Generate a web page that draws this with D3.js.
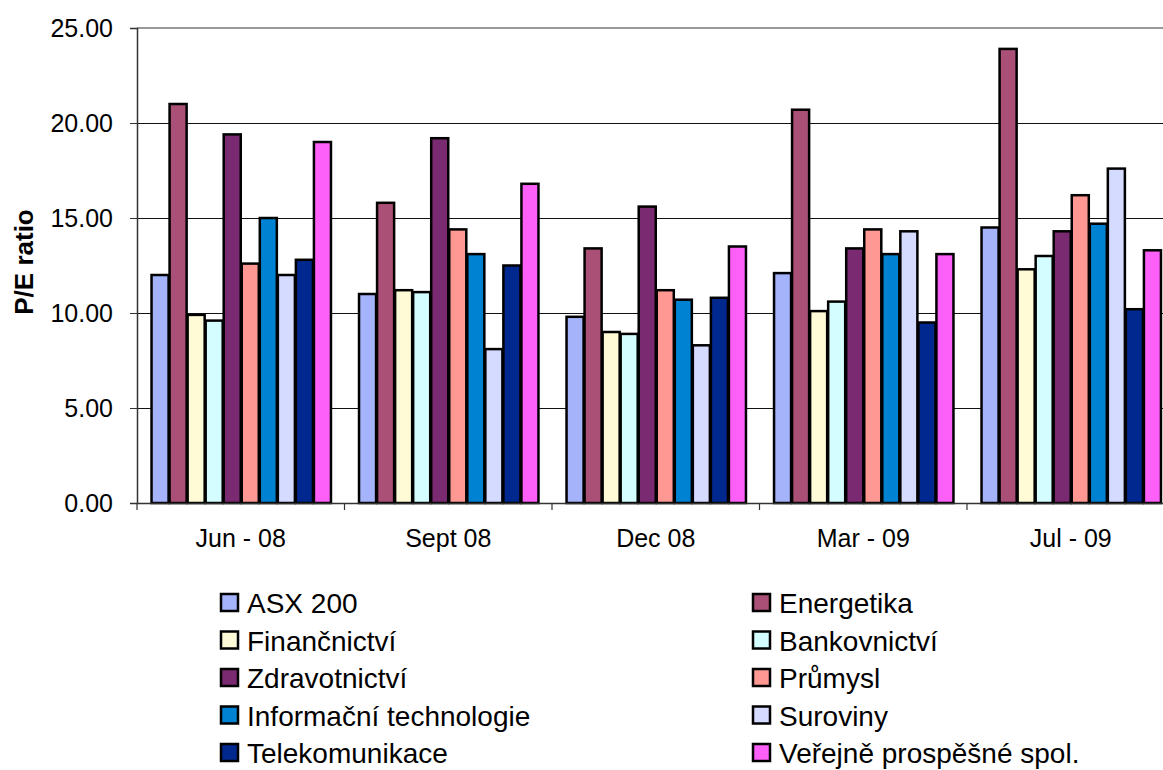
<!DOCTYPE html>
<html>
<head>
<meta charset="utf-8">
<script src="https://cdn.jsdelivr.net/npm/d3@7"></script>
<style>
  body { margin: 0; background: #fff; }
  svg { display: block; font-family: "Liberation Sans", Arial, sans-serif; }
</style>
</head>
<body>
<svg id="chart" width="1163" height="770"></svg>
<script>
// data
var periods = ["Jun - 08", "Sept 08", "Dec 08", "Mar - 09", "Jul - 09"];
var sectors = ["ASX 200", "Energetika", "Finančnictví", "Bankovnictví", "Zdravotnictví",
    "Průmysl", "Informační technologie", "Suroviny", "Telekomunikace", "Veřejně prospěšné spol."];
var colors = ["#a5b3fa", "#aa5076", "#fffbd6", "#d4fdff", "#7a2a70",
    "#ff9893", "#0082d2", "#d5daff", "#00288f", "#fd60f8"];
var asx = [12.0, 11.0, 9.8, 12.1, 14.5];
var energetika = [21.0, 15.8, 13.4, 20.7, 23.9];
var financnictvi = [9.9, 11.2, 9.0, 10.1, 12.3];
var bankovnictvi = [9.6, 11.1, 8.9, 10.6, 13.0];
var zdravotnictvi = [19.4, 19.2, 15.6, 13.4, 14.3];
var prumysl = [12.6, 14.4, 11.2, 14.4, 16.2];
var it = [15.0, 13.1, 10.7, 13.1, 14.7];
var suroviny = [12.0, 8.1, 8.3, 14.3, 17.6];
var telekom = [12.8, 12.5, 10.8, 9.5, 10.2];
var verejne = [19.0, 16.8, 13.5, 13.1, 13.3];
var yTicks = [0, 5, 10, 15, 20, 25];

var series = [asx, energetika, financnictvi, bankovnictvi, zdravotnictvi,
    prumysl, it, suroviny, telekom, verejne];

var svg = d3.select("#chart");
var plotLeft = 137, plotTop = 28, plotBottom = 503, plotRight = 1174.5;

var y = d3.scaleLinear().domain([0, 25]).range([plotBottom, plotTop]);
var x0 = d3.scaleBand().domain(periods).range([plotLeft, plotRight]).padding(0);
var x1 = d3.scaleBand().domain(d3.range(sectors.length))
    .range([0, x0.bandwidth()]).paddingInner(0).paddingOuter(0.75);

// grid lines
svg.append("g").selectAll("line")
    .data(yTicks.filter(function (t) { return t > 0 && t < 25; }))
    .enter().append("line")
    .attr("x1", plotLeft).attr("x2", 1163)
    .attr("y1", function (d) { return y(d) + 0.5; })
    .attr("y2", function (d) { return y(d) + 0.5; })
    .attr("stroke", "#111").attr("stroke-width", 1.2);

// top border of plot area
svg.append("line")
    .attr("x1", plotLeft).attr("x2", 1163)
    .attr("y1", y(25)).attr("y2", y(25))
    .attr("stroke", "#999").attr("stroke-width", 2);

// bars
var rows = [];
periods.forEach(function (p, i) {
    series.forEach(function (s, j) {
        rows.push({ period: p, k: j, v: s[i] });
    });
});

svg.append("g").selectAll("rect")
    .data(rows)
    .enter().append("rect")
    .attr("x", function (d) { return x0(d.period) + x1(d.k) + 1; })
    .attr("y", function (d) { return y(d.v); })
    .attr("width", x1.bandwidth() - 1)
    .attr("height", function (d) { return plotBottom - y(d.v); })
    .attr("fill", function (d) { return colors[d.k]; })
    .attr("stroke", "#000").attr("stroke-width", 2.5);

// y axis
var yAxis = svg.append("g")
    .attr("transform", "translate(" + plotLeft + ",0)")
    .call(d3.axisLeft(y).tickValues(yTicks).tickSize(7).tickPadding(17)
        .tickFormat(d3.format(".2f")));
yAxis.select(".domain").attr("stroke", "#333").attr("stroke-width", 1.5);
yAxis.selectAll(".tick line").attr("stroke", "#333");
yAxis.selectAll("text").attr("font-size", "25px").attr("fill", "#000")
    .attr("font-family", "Liberation Sans, Arial, sans-serif");

// x axis
var xAxis = svg.append("g")
    .attr("transform", "translate(0," + plotBottom + ")")
    .call(d3.axisBottom(x0).tickSize(0).tickPadding(26));
xAxis.select(".domain").attr("stroke", "#333").attr("stroke-width", 1.5);
xAxis.selectAll("text").attr("font-size", "25px").attr("fill", "#000")
    .attr("font-family", "Liberation Sans, Arial, sans-serif");

// category separator ticks
svg.append("g").selectAll("line")
    .data(periods)
    .enter().append("line")
    .attr("x1", function (d) { return x0(d); })
    .attr("x2", function (d) { return x0(d); })
    .attr("y1", plotBottom).attr("y2", plotBottom + 7)
    .attr("stroke", "#333").attr("stroke-width", 1.2);

// y title
svg.append("text")
    .attr("transform", "translate(33,262) rotate(-90)")
    .attr("text-anchor", "middle")
    .attr("font-size", "26px").attr("font-weight", "bold")
    .text("P/E ratio");

// legend
var legend = svg.append("g").selectAll("g")
    .data(sectors)
    .enter().append("g")
    .attr("transform", function (d, i) {
        var col = i % 2, row = Math.floor(i / 2);
        return "translate(" + (col ? 753 : 221) + "," + (603 + row * 37.5) + ")";
    });
legend.append("rect")
    .attr("x", 0).attr("y", -9).attr("width", 17).attr("height", 17)
    .attr("fill", function (d, i) { return colors[i]; })
    .attr("stroke", "#000").attr("stroke-width", 2.5);
legend.append("text")
    .attr("x", 26).attr("y", 10)
    .attr("font-size", "28px")
    .text(function (d) { return d; });
</script>
</body>
</html>
